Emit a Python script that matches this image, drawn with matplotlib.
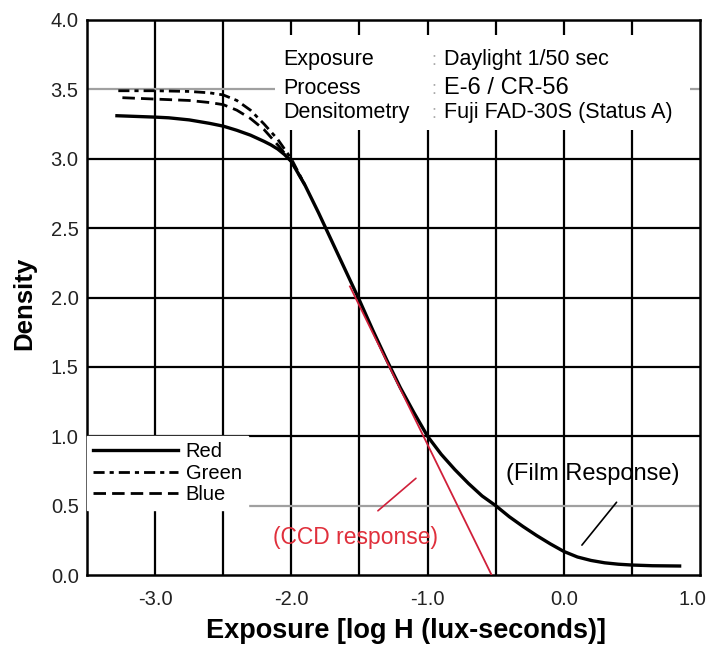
import matplotlib
matplotlib.use('Agg')
import matplotlib.pyplot as plt
from matplotlib.patches import Rectangle
from matplotlib.transforms import ScaledTranslation
plt.rcParams['font.family'] = ['Liberation Sans', 'DejaVu Sans']
plt.rcParams['font.size'] = 14

# characteristic curves (log H, density)
red_x = [-3.28, -3.0, -2.9, -2.75, -2.6, -2.5, -2.4, -2.3, -2.2, -2.15, -2.1, -2.05, -2.0,
         -1.9, -1.8, -1.7, -1.6, -1.5, -1.4, -1.3, -1.2, -1.1, -1.0, -0.9, -0.8, -0.7,
         -0.6, -0.5, -0.4, -0.3, -0.2, -0.1, 0.0, 0.1, 0.2, 0.3, 0.4, 0.5, 0.65, 0.85]
red_y = [3.31, 3.30, 3.295, 3.28, 3.255, 3.235, 3.205, 3.17, 3.125, 3.10, 3.07, 3.03, 2.98,
         2.81, 2.61, 2.40, 2.19, 1.98, 1.76, 1.55, 1.35, 1.17, 1.00, 0.87, 0.76, 0.66,
         0.57, 0.50, 0.42, 0.35, 0.285, 0.225, 0.17, 0.13, 0.105, 0.088, 0.078, 0.072,
         0.067, 0.065]
green_x = [-3.27, -3.0, -2.75, -2.6, -2.5, -2.4, -2.3, -2.2, -2.1, -2.0, -1.9]
green_y = [3.49, 3.49, 3.485, 3.475, 3.46, 3.42, 3.35, 3.25, 3.14, 3.00, 2.81]
blue_x = [-3.24, -3.0, -2.75, -2.6, -2.5, -2.4, -2.3, -2.2, -2.1, -2.0, -1.9]
blue_y = [3.44, 3.43, 3.42, 3.405, 3.39, 3.35, 3.29, 3.21, 3.10, 2.98, 2.81]
ccd_x = [-1.57, -0.53]
ccd_y = [2.08, 0.0]

xtick_vals = [-3.0, -2.0, -1.0, 0.0, 1.0]
xtick_labels = ['-3.0', '-2.0', '-1.0', '0.0', '1.0']
ytick_vals = [0.0, 0.5, 1.0, 1.5, 2.0, 2.5, 3.0, 3.5, 4.0]
ytick_labels = ['0.0', '0.5', '1.0', '1.5', '2.0', '2.5', '3.0', '3.5', '4.0']
vgrid = [-3.0, -2.5, -2.0, -1.5, -1.0, -0.5, 0.0, 0.5]
hgrid = [0.5, 1.0, 1.5, 2.0, 2.5, 3.0, 3.5]
gray_rows = [0.5, 3.5]

info_keys = ['Exposure', 'Process', 'Densitometry']
info_vals = ['Daylight 1/50 sec', 'E-6 / CR-56', 'Fuji FAD-30S (Status A)']

fig = plt.figure(figsize=(7.1, 6.51), dpi=100)
ax = fig.add_axes([0.1225, 0.1167, 0.8635, 0.8526])
ax.set_xlim(-3.5, 1.0)
ax.set_ylim(0.0, 4.0)

for v in vgrid:
    ax.axvline(v, color='k', lw=1.6, zorder=1)
for h in hgrid:
    ax.axhline(h, color='#a0a0a0' if h in gray_rows else 'k', lw=1.6, zorder=1)

ax.plot(red_x, red_y, color='k', lw=2.4, label='Red', zorder=3)
ax.plot(green_x, green_y, color='k', lw=2.0, dashes=(4, 1.8, 1.5, 1.8), label='Green', zorder=3)
ax.plot(blue_x, blue_y, color='k', lw=2.0, dashes=(4.5, 2.2), label='Blue', zorder=3)
ax.plot(ccd_x, ccd_y, color='#d0203a', lw=1.3, zorder=4)

for s in ax.spines.values():
    s.set_linewidth(1.8)
ax.set_xticks(xtick_vals)
ax.set_xticklabels(xtick_labels)
ax.set_yticks(ytick_vals)
ax.set_yticklabels(ytick_labels)
ax.tick_params(axis='x', length=0, pad=11, labelsize=14.5, labelcolor='#222222')
ax.tick_params(axis='y', length=0, pad=6, labelsize=14.5, labelcolor='#222222')
# last x label sits at the figure's right edge, keep it inside
last = ax.get_xticklabels()[-1]
last.set_horizontalalignment('right')
last.set_transform(last.get_transform() + ScaledTranslation(0.06, 0, fig.dpi_scale_trans))

ax.set_xlabel('Exposure [log H (lux-seconds)]', fontsize=19.5, fontweight='bold')
ax.xaxis.set_label_coords(0.52, -0.078)
ax.set_ylabel('Density', fontsize=18.5, fontweight='bold')
ax.yaxis.set_label_coords(-0.082, 0.49)

leg = ax.legend(loc='upper left', bbox_to_anchor=(-3.5, 1.0), bbox_transform=ax.transData,
                fontsize=14.5, handlelength=4.2, handletextpad=0.4, labelspacing=0.12,
                borderaxespad=0, borderpad=0.3, frameon=True, fancybox=False,
                framealpha=1, edgecolor='white', facecolor='white')
leg.set_zorder(6)

# white box behind the info block
ax.add_patch(Rectangle((0.307, 0.802), 0.677, 0.171, transform=ax.transAxes,
                       facecolor='white', edgecolor='none', zorder=5))
info_y = [3.675, 3.465, 3.295]
for k, v, y in zip(info_keys, info_vals, info_y):
    ax.text(-2.06, y, k, fontsize=15.5, va='baseline', ha='left', zorder=6)
    ax.text(-0.97, y, ':', fontsize=13, va='baseline', ha='left', color='#aaaaaa', zorder=6)
    ax.text(-0.88, y, v, fontsize=17 if v.startswith('E-6') else 15.5,
            va='baseline', ha='left', zorder=6)

ax.text(-1.53, 0.27, '(CCD response)', color='#e0303c', fontsize=16.5,
        ha='center', va='center', zorder=6)
ax.annotate('', xy=(-1.07, 0.71), xytext=(-1.38, 0.45),
            arrowprops=dict(arrowstyle='-', color='#d0203a', lw=1.2), zorder=6)
ax.text(0.215, 0.73, '(Film Response)', color='k', fontsize=17,
        ha='center', va='center', zorder=6)
ax.annotate('', xy=(0.12, 0.20), xytext=(0.40, 0.54),
            arrowprops=dict(arrowstyle='-', color='k', lw=1.2), zorder=6)

fig.savefig('out.png', dpi=100)
